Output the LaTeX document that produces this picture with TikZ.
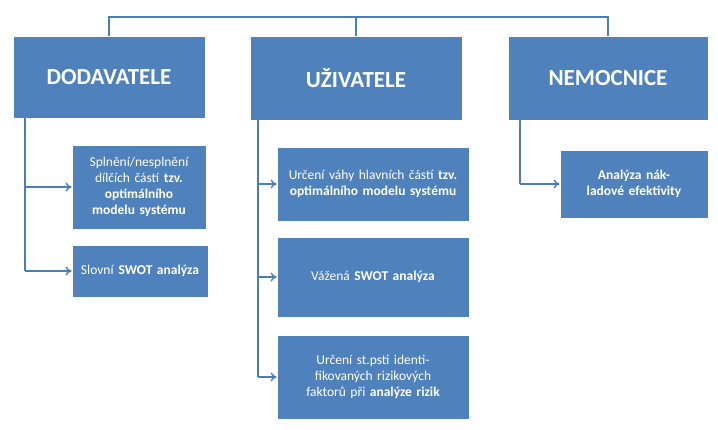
\documentclass[tikz,border=0pt]{standalone}
\usepackage{fontspec}
\setmainfont{Carlito}
\usetikzlibrary{arrows.meta}
\definecolor{bx}{HTML}{4F81BD}
\definecolor{ln}{HTML}{4A7EBB}
\tikzset{
 box/.style={draw=white,line width=0.8pt,fill=bx,text=white,align=center,inner sep=2pt},
 head/.style={box,font=\fontsize{23}{26}\selectfont\bfseries},
 sub/.style={box,font=\fontsize{13.5}{16}\selectfont},
 conn/.style={draw=ln,line width=1.6pt},
 arr/.style={conn,-{To[length=6pt,width=9pt,line width=1.4pt]}}
}
\begin{document}
\begin{tikzpicture}[x=1pt,y=-1pt]
\useasboundingbox (0,0) rectangle (718,430);
\node[head,minimum width=192,minimum height=82] (d) at (109,77.5) {DODAVATELE};
\node[head,minimum width=212,minimum height=84] (u) at (356,78.5) {UŽIVATELE};
\node[head,minimum width=200,minimum height=84] (n) at (608,78.5) {NEMOCNICE};
\coordinate (top) at (356,17);
\draw[conn] (d.north) |- (top) -| (n.north);
\draw[conn] (top) -- (u.north);
\node[sub,minimum width=134,minimum height=84,text width=128] (d1) at (139,187) {Splnění/nesplnění dílčích částí \textbf{tzv. optimálního modelu systému}};
\node[sub,minimum width=136,minimum height=52,text width=128] (d2) at (140,271) {Slovní \textbf{SWOT analýza}};
\coordinate (dl) at (25,118.5);
\draw[conn] (dl) -- (25,271);
\draw[arr] (25,187) -- (d1.west);
\draw[arr] (25,271) -- (d2.west);
\node[sub,minimum width=192,minimum height=74,text width=186] (u1) at (373,184) {Určení váhy hlavních částí \textbf{tzv. optimálního modelu systému}};
\node[sub,minimum width=192,minimum height=80,text width=186] (u2) at (373,277) {Vážená \textbf{SWOT analýza}};
\node[sub,minimum width=192,minimum height=84,text width=150] (u3) at (373,377) {Určení st.psti identifikovaných rizikových faktorů při \textbf{analýze rizik}};
\draw[conn] (258,120.5) -- (258,377);
\draw[arr] (258,184) -- (u1.west);
\draw[arr] (258,277) -- (u2.west);
\draw[arr] (258,377) -- (u3.west);
\node[sub,minimum width=148,minimum height=68,text width=140,font=\fontsize{13.5}{16}\selectfont\bfseries] (n1) at (634,184) {Analýza nákladové efektivity};
\draw[conn] (520,120.5) -- (520,184);
\draw[arr] (520,184) -- (n1.west);
\end{tikzpicture}
\end{document}
